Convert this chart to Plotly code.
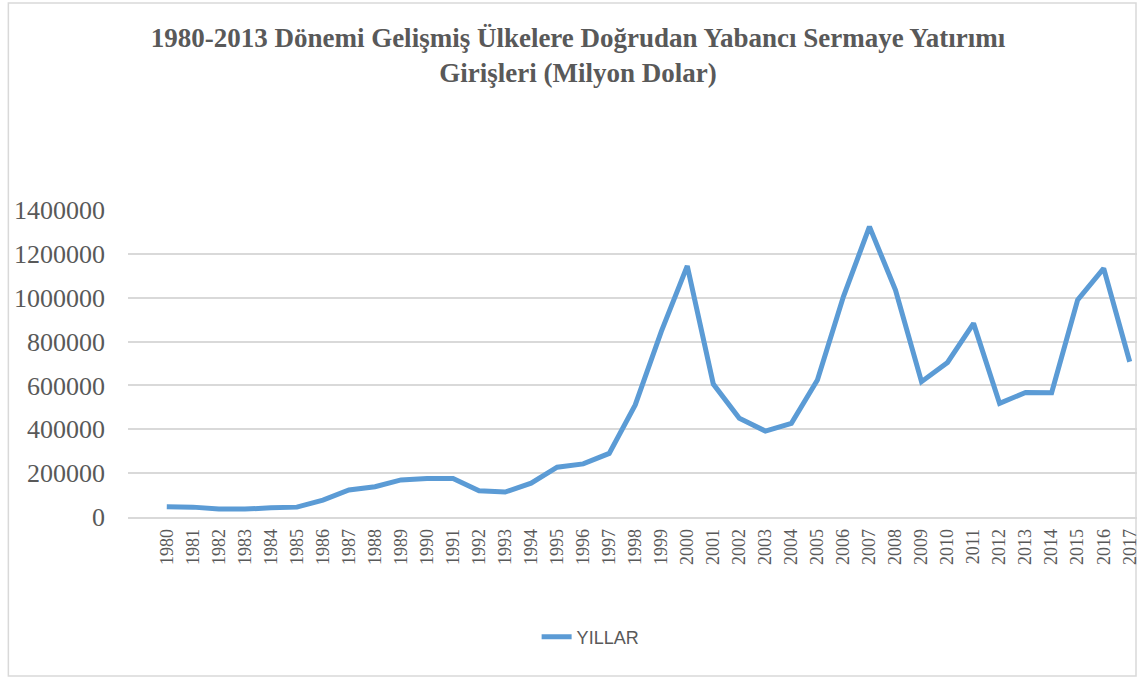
import plotly.graph_objects as go

W, H = 1141, 677

years = [str(y) for y in range(1980, 2018)]
inflows = [
    47000, 45000, 36000, 36000, 42000, 45000, 77000, 123000, 138000, 169000,
    176000, 176000, 120000, 114000, 154000, 227000, 242000, 290000, 511000, 845000,
    1145000, 606000, 450000, 392000, 427000, 625000, 1005000, 1324000, 1035000, 617000,
    705000, 883000, 518000, 568000, 567000, 990000, 1134000, 708000,
]
y_ticks = [0, 200000, 400000, 600000, 800000, 1000000, 1200000, 1400000]

GRIS = '#595959'
AZUL = '#5B9BD5'
REJILLA = '#D9D9D9'
SERIF = 'Liberation Serif, Times New Roman, serif'

# margenes del area de trazado (px)
ML, MR, MT, MB = 128, 1, 210, 160
pw = W - ML - MR
ph = H - MT - MB

fig = go.Figure()
fig.add_trace(go.Scatter(
    x=years,
    y=inflows,
    mode='lines',
    name='YILLAR',
    line=dict(color=AZUL, width=5),
))

fig.update_layout(
    width=W,
    height=H,
    margin=dict(l=ML, r=MR, t=MT, b=MB),
    plot_bgcolor='white',
    paper_bgcolor='white',
    title=dict(
        text='1980-2013 Dönemi Gelişmiş Ülkelere Doğrudan Yabancı Sermaye Yatırımı<br>Girişleri (Milyon Dolar)',
        x=578 / W,
        xanchor='center',
        y=1 - 47 / H,
        yanchor='top',
        font=dict(family=SERIF, size=27, color=GRIS, weight='bold'),
    ),
    showlegend=True,
    legend=dict(
        orientation='h',
        x=(592 - ML) / pw,
        xanchor='center',
        y=(H - MB - 637) / ph,
        yanchor='middle',
        font=dict(family='Liberation Sans, Arial, sans-serif', size=18, color=GRIS),
        bgcolor='rgba(0,0,0,0)',
    ),
)

fig.update_xaxes(
    type='category',
    range=[-1.49, 37.28],
    tickangle=-90,
    tickfont=dict(family=SERIF, size=18, color=GRIS),
    showgrid=False,
    showline=True,
    linecolor=REJILLA,
    linewidth=1.5,
    ticks='',
    ticklabelstandoff=3,
)
fig.update_yaxes(
    range=[0, 1400000],
    tickvals=y_ticks,
    ticktext=[str(v) for v in y_ticks],
    tickfont=dict(family=SERIF, size=26, color=GRIS),
    showgrid=True,
    gridcolor=REJILLA,
    gridwidth=1.5,
    zeroline=False,
    ticks='',
    ticklabelstandoff=22,
)

# borde del grafico
fig.add_shape(
    type='rect',
    xref='paper', yref='paper',
    x0=(8 - ML) / pw, x1=(1139 - ML) / pw,
    y0=(H - MB - 676) / ph, y1=(H - MB - 3) / ph,
    line=dict(color=REJILLA, width=1.5),
    fillcolor='rgba(0,0,0,0)',
    layer='below',
)

fig.write_html(
    'out.html',
    config={'displayModeBar': False},
    post_script="document.body.style.margin='0';",
)
